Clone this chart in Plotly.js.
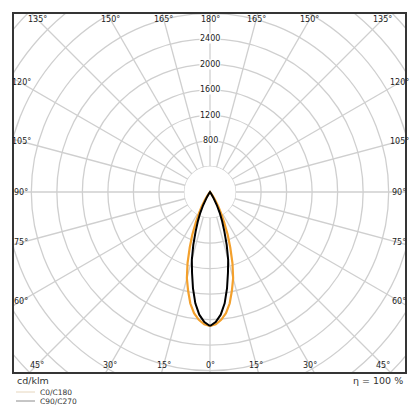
<!DOCTYPE html>
<html>
<head>
<meta charset="utf-8">
<script src="https://cdn.plot.ly/plotly-3.0.1.min.js"></script>
<style>
html,body{margin:0;padding:0;width:420px;height:420px;overflow:hidden;background:#fff;}
#chart{position:absolute;}
</style>
</head>
<body>
<div id="chart"></div>
<script>
// ---- data ----
const gammaDeg = [0, 2.5, 5, 7.5, 10, 12.5, 15, 17.5, 20, 22.5, 25, 27.5, 30, 32.5, 35, 37.5, 40, 42.5, 45, 60, 90, 120, 150, 180];
const intensityC0C180 = [2100, 2075, 2010, 1915, 1775, 1585, 1400, 1170, 930, 725, 525, 380, 260, 150, 70, 25, 5, 0, 0, 0, 0, 0, 0, 0];
const intensityC90C270 = [2100, 2040, 1930, 1760, 1535, 1300, 1100, 870, 660, 500, 360, 230, 115, 50, 15, 0, 0, 0, 0, 0, 0, 0, 0, 0];
const seriesNames = ['C0/C180', 'C90/C270'];
const radialTickValues = [800, 1200, 1600, 2000, 2400];
const angleTickValues = [0, 15, 30, 45, 60, 75, 90, 105, 120, 135, 150, 165, 180];
const unitLabel = 'cd/klm';
const efficiencyLabel = 'η = 100 %';
const HOLE_R = 400;

// ---- geometry ----
const S = 536;              // plot div size
const RMAX = 4200;          // radial range
const CX = 210, CY = 192;   // pole position in window
const offX = CX - S / 2, offY = CY - S / 2;
const BOX = {l: 13, t: 13, r: 406, b: 373};
const LBL = {l: 21, t: 20, r: 399, b: 365};
const scale = (S / 2) / RMAX;
const div = document.getElementById('chart');
div.style.left = offX + 'px';
div.style.top = offY + 'px';
div.style.width = S + 'px';
div.style.height = S + 'px';
const px = wx => (wx - offX) / S;
const py = wy => 1 - (wy - offY) / S;

const FONT = 'DejaVu Sans, sans-serif';
const GRID = '#cfcfcf';

function mirrored(vals) {
  // right half: theta = gamma ; left half: theta = 360 - gamma
  const th = [], r = [];
  for (let i = 0; i < gammaDeg.length; i++) { th.push(gammaDeg[i]); r.push(vals[i]); }
  for (let i = gammaDeg.length - 1; i >= 0; i--) { th.push(360 - gammaDeg[i]); r.push(vals[i]); }
  return {th, r};
}

const holeTheta = [], holeR = [];
for (let a = 0; a <= 360; a += 2) { holeTheta.push(a); holeR.push(HOLE_R); }

const c0 = mirrored(intensityC0C180);
const c90 = mirrored(intensityC90C270);

const traces = [
  {type: 'scatterpolar', r: holeR, theta: holeTheta, mode: 'lines', fill: 'toself',
   fillcolor: '#ffffff', line: {width: 0, color: '#ffffff'}, hoverinfo: 'skip', showlegend: false},
  {type: 'scatterpolar', r: c0.r, theta: c0.th, mode: 'lines', name: seriesNames[0],
   line: {color: '#f3a02c', width: 2.2}, showlegend: false},
  {type: 'scatterpolar', r: c90.r, theta: c90.th, mode: 'lines', name: seriesNames[1],
   line: {color: '#000000', width: 2}, showlegend: false}
];

const shapes = [
  // white masks outside the frame
  {type: 'rect', xref: 'paper', yref: 'paper', x0: -0.1, x1: 1.1, y0: py(BOX.t), y1: 1.1, fillcolor: '#fff', line: {width: 0}, layer: 'above'},
  {type: 'rect', xref: 'paper', yref: 'paper', x0: -0.1, x1: 1.1, y0: -0.1, y1: py(BOX.b), fillcolor: '#fff', line: {width: 0}, layer: 'above'},
  {type: 'rect', xref: 'paper', yref: 'paper', x0: -0.1, x1: px(BOX.l), y0: -0.1, y1: 1.1, fillcolor: '#fff', line: {width: 0}, layer: 'above'},
  {type: 'rect', xref: 'paper', yref: 'paper', x0: px(BOX.r), x1: 1.1, y0: -0.1, y1: 1.1, fillcolor: '#fff', line: {width: 0}, layer: 'above'},
  // frame
  {type: 'rect', xref: 'paper', yref: 'paper', x0: px(BOX.l), x1: px(BOX.r), y0: py(BOX.b), y1: py(BOX.t),
   fillcolor: 'rgba(0,0,0,0)', line: {color: '#353535', width: 2}, layer: 'above'}
];

const annotations = [];
// angle labels where each ray meets the (inset) frame
angleTickValues.forEach(g => {
  const sides = (g === 0 || g === 180) ? [1] : [1, -1];
  sides.forEach(s => {
    const rad = g * Math.PI / 180;
    const dx = s * Math.sin(rad), dy = Math.cos(rad);
    const cands = [];
    if (dx > 1e-9) cands.push((LBL.r - CX) / dx);
    if (dx < -1e-9) cands.push((LBL.l - CX) / dx);
    if (dy > 1e-9) cands.push((LBL.b - CY) / dy);
    if (dy < -1e-9) cands.push((LBL.t - CY) / dy);
    const t = Math.min(...cands);
    annotations.push({xref: 'paper', yref: 'paper', x: px(CX + t * dx), y: py(CY + t * dy),
      text: g + '°', showarrow: false, xanchor: 'center', yanchor: 'middle',
      font: {family: FONT, size: 8, color: '#222'}});
  });
});
// radial value labels on the upward ray
radialTickValues.forEach(v => {
  annotations.push({xref: 'paper', yref: 'paper', x: px(CX), y: py(CY - v * scale),
    text: String(v), showarrow: false, xanchor: 'center', yanchor: 'middle',
    bgcolor: '#fff', borderpad: 0, font: {family: FONT, size: 8, color: '#222'}});
});
annotations.push({xref: 'paper', yref: 'paper', x: px(15), y: py(380), text: unitLabel,
  showarrow: false, xanchor: 'left', yanchor: 'middle', font: {family: FONT, size: 9.5, color: '#333'}});
annotations.push({xref: 'paper', yref: 'paper', x: px(405), y: py(380), text: efficiencyLabel,
  showarrow: false, xanchor: 'right', yanchor: 'middle', font: {family: FONT, size: 9.5, color: '#333'}});

// compact legend
const legendLineColors = ['#e6d6bd', '#8c8c8c'];
seriesNames.forEach((n, i) => {
  const y = 392 + i * 9;
  shapes.push({type: 'line', xref: 'paper', yref: 'paper', x0: px(16), x1: px(35), y0: py(y), y1: py(y),
    line: {color: legendLineColors[i], width: 1}, layer: 'above'});
  annotations.push({xref: 'paper', yref: 'paper', x: px(39), y: py(y), text: n, showarrow: false,
    xanchor: 'left', yanchor: 'middle', borderpad: 0, font: {family: FONT, size: 7.5, color: '#333'}});
});

const layout = {
  width: S, height: S, autosize: false,
  margin: {l: 0, r: 0, t: 0, b: 0, pad: 0},
  paper_bgcolor: '#fff',
  showlegend: false,
  polar: {
    domain: {x: [0, 1], y: [0, 1]},
    bgcolor: '#fff',
    radialaxis: {range: [0, RMAX], tickmode: 'linear', tick0: 0, dtick: 400, showticklabels: false,
      ticks: '', showline: false, gridcolor: GRID, gridwidth: 1.3},
    angularaxis: {rotation: -90, direction: 'counterclockwise', tickmode: 'linear', tick0: 0, dtick: 15,
      showticklabels: false, ticks: '', showline: false, gridcolor: GRID, gridwidth: 1.3}
  },
  shapes: shapes,
  annotations: annotations
};

Plotly.newPlot(div, traces, layout, {displayModeBar: false, staticPlot: true});
</script>
</body>
</html>
